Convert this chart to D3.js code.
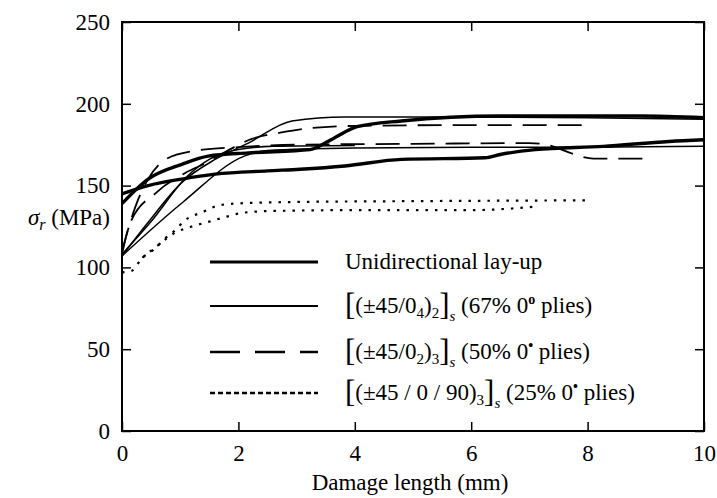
<!DOCTYPE html>
<html>
<head>
<meta charset="utf-8">
<script src="https://d3js.org/d3.v7.min.js"></script>
<style>
  body { margin: 0; background: #fff; }
</style>
</head>
<body>
<div id="chart"></div>
<script>
var serif = "'Liberation Serif', 'DejaVu Serif', serif";

// axis values
var xTicks = [0, 2, 4, 6, 8, 10];
var yTicks = [0, 50, 100, 150, 200, 250];

// unidirectional lay-up (thick solid)
var uniA = [[0,145],[0.45,150],[1.03,154],[1.6,157],[2.5,159],[3.06,160],[3.83,162],[4.8,166],[6.24,167],[6.5,169],[7.1,172],[8.27,174],[9.4,177],[10,178]];
var uniB = [[0,139],[0.45,154],[1.03,163],[1.48,168],[2.17,170],[3.23,172],[3.64,179],[4.04,186],[4.8,189.5],[6.5,192.5],[8.9,192.5],[10,191.5]];

// [(±45/0_4)_2]_s  67% (thin solid)
var thinA = [[0,107],[0.45,127.6],[1.03,152],[1.6,166],[2.17,176],[2.92,189.5],[3.83,192],[6,192],[8,191.5],[10,190.5]];
var thinB = [[0,108],[0.5,128],[1.13,156],[1.5,166],[2.0,172],[2.6,174],[4,174.5]];
var thinC = [[0,107],[1.05,140],[2.1,168],[2.5,171.5],[4,173],[6,173.5],[8,173.5],[10,174]];

// [(±45/0_2)_3]_s  50% (dashed)
var dashA = [[0,108],[0.15,128],[0.6,146],[1.1,158],[1.45,164],[1.6,167],[2.23,178.5],[2.74,182.5],[3.2,185],[4,186.5],[6,187],[8,187]];
var dashB = [[0,110],[0.25,139],[0.45,154],[0.75,166],[1.2,171],[2,173.5],[3,175],[5,175.5],[7,176],[7.4,174],[7.7,170],[8.1,166.5],[9.1,166.5]];

// [(±45/0/90)_3]_s  25% (dotted)
var dotA = [[0,97],[0.17,98],[0.34,105.5],[0.57,111.6],[0.74,117.7],[0.91,122.6],[1.08,128.7],[1.4,134],[1.65,137.8],[1.94,139],[3,140],[5,140.5],[8,141]];
var dotB = [[0.35,106],[0.6,113],[0.9,121],[1.2,125],[1.5,128],[1.8,131],[2.1,133.5],[2.6,134.5],[4,135],[6,135],[6.7,136],[7.05,137]];

var margin = {top: 22, left: 122};
var width = 582, height = 409;

var svg = d3.select("#chart").append("svg")
    .attr("width", 717)
    .attr("height", 498)
    .style("font-family", serif);

var g = svg.append("g")
    .attr("transform", "translate(" + margin.left + "," + margin.top + ")");

var x = d3.scaleLinear().domain([0, 10]).range([0, width]);
var y = d3.scaleLinear().domain([0, 250]).range([height, 0]);

// axes with inward ticks
g.append("g")
    .call(d3.axisLeft(y).tickValues(yTicks).tickSizeInner(-9).tickSizeOuter(0).tickPadding(12));
g.append("g")
    .attr("transform", "translate(0," + height + ")")
    .call(d3.axisBottom(x).tickValues(xTicks).tickSizeInner(-9).tickSizeOuter(0).tickPadding(14));
g.append("g")
    .attr("transform", "translate(" + width + ",0)")
    .call(d3.axisRight(y).tickValues(yTicks).tickSizeInner(-9).tickSizeOuter(0).tickFormat(""));
g.append("g")
    .call(d3.axisTop(x).tickValues(xTicks).tickSizeInner(-9).tickSizeOuter(0).tickFormat(""));

g.selectAll("g").attr("font-family", null);
g.selectAll(".domain").remove();
g.selectAll(".tick line").attr("stroke", "#000").attr("stroke-width", 1.5);
g.selectAll(".tick text")
    .style("font-family", serif)
    .style("font-size", "23px")
    .attr("fill", "#000");

g.append("rect")
    .attr("width", width)
    .attr("height", height)
    .attr("fill", "none")
    .attr("stroke", "#000")
    .attr("stroke-width", 2);

// curves
var line = d3.line()
    .x(function(d) { return x(d[0]); })
    .y(function(d) { return y(d[1]); })
    .curve(d3.curveMonotoneX);

var styles = {
  uni:  {w: 3.4, dash: null},
  thin: {w: 1.5, dash: null},
  dash: {w: 1.8, dash: "24,11"},
  dot:  {w: 2.2, dash: "2.5,7"}
};

var curves = [
  [uniA, "uni"], [uniB, "uni"],
  [thinA, "thin"], [thinB, "thin"], [thinC, "thin"],
  [dashA, "dash"], [dashB, "dash"],
  [dotA, "dot"], [dotB, "dot"]
];

g.selectAll(".curve")
    .data(curves)
    .enter().append("path")
    .attr("class", "curve")
    .attr("d", function(d) { return line(d[0]); })
    .attr("fill", "none")
    .attr("stroke", "#000")
    .attr("stroke-width", function(d) { return styles[d[1]].w; })
    .attr("stroke-dasharray", function(d) { return styles[d[1]].dash; });

// axis titles
svg.append("text")
    .attr("x", 410)
    .attr("y", 490)
    .attr("text-anchor", "middle")
    .style("font-size", "23px")
    .text("Damage length (mm)");

var yt = svg.append("text")
    .attr("x", 110)
    .attr("y", 225)
    .attr("text-anchor", "end")
    .style("font-size", "23px");
yt.append("tspan").style("font-style", "italic").text("σ");
yt.append("tspan").attr("dy", 5).style("font-style", "italic").style("font-size", "16px").text("r");
yt.append("tspan").attr("dy", -5).text(" (MPa)");

// legend
var legY = [262, 306, 352, 393];
var legStyle = [
  {w: 3.2, dash: null},
  {w: 2.0, dash: null},
  {w: 2.6, dash: "30,15"},
  {w: 2.4, dash: "5,3"}
];

legY.forEach(function(ly, i) {
  svg.append("line")
      .attr("x1", 210).attr("x2", 318)
      .attr("y1", ly).attr("y2", ly)
      .attr("stroke", "#000")
      .attr("stroke-width", legStyle[i].w)
      .attr("stroke-dasharray", legStyle[i].dash);
});

svg.append("text")
    .attr("x", 345).attr("y", legY[0] + 7)
    .style("font-size", "23px")
    .text("Unidirectional lay-up");

function layup(ly, inner, sub, n, pct, hollow) {
  var t = svg.append("text")
      .attr("x", 345).attr("y", ly + 7)
      .style("font-size", "23px");
  t.append("tspan").style("font-size", "31px").attr("dy", 2).text("[");
  t.append("tspan").attr("dy", -2).text(inner);
  if (sub) t.append("tspan").attr("dy", 5).style("font-size", "15px").text(sub);
  t.append("tspan").attr("dy", sub ? -5 : 0).text(")");
  t.append("tspan").attr("dy", 5).style("font-size", "15px").text(n);
  t.append("tspan").attr("dy", -3).style("font-size", "31px").text("]");
  t.append("tspan").attr("dy", 6).style("font-size", "15px").style("font-style", "italic").text("s");
  t.append("tspan").attr("dy", -8).text(" (" + pct + "% 0");
  t.append("tspan").attr("dy", -9).style("font-size", "14px").style("font-weight", "bold")
      .text(hollow ? "o" : "•");
  t.append("tspan").attr("dy", 9).text(" plies)");
}

layup(legY[1], "(±45/0", "4", "2", "67", true);
layup(legY[2], "(±45/0", "2", "3", "50", false);
layup(legY[3], "(±45 / 0 / 90", "", "3", "25", false);
</script>
</body>
</html>
